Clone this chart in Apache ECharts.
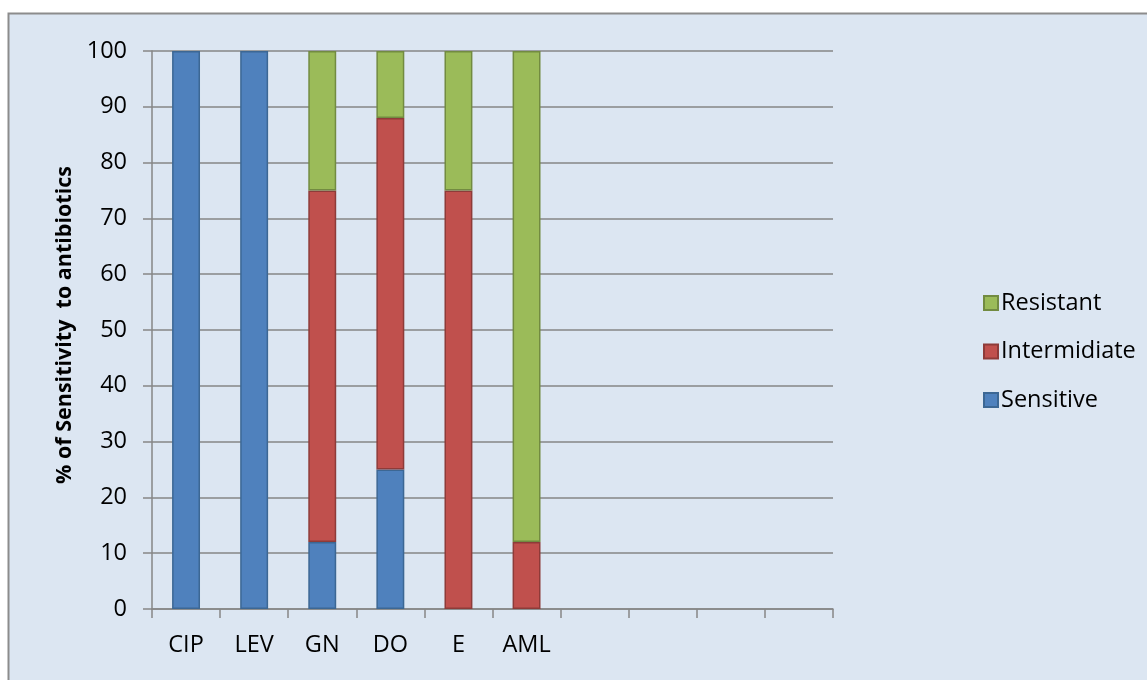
<!DOCTYPE html>
<html>
<head>
<meta charset="utf-8">
<script src="https://cdn.jsdelivr.net/npm/echarts@6/dist/echarts.min.js"></script>
<style>
html,body{margin:0;padding:0;background:#ffffff;}
#chart{width:1147px;height:680px;}
</style>
</head>
<body>
<div id="chart"></div>
<script>
var categories = ['CIP', 'LEV', 'GN', 'DO', 'E', 'AML', '', '', '', ''];
var sensitive = [100, 100, 12, 25, null, null, null, null, null, null];
var intermediate = [null, null, 63, 63, 75, 12, null, null, null, null];
var resistant = [null, null, 25, 12, 25, 88, null, null, null, null];
var yTicks = [0, 10, 20, 30, 40, 50, 60, 70, 80, 90, 100];

var FONT = 'Open Sans';
var AX = '#868686';
var chart = echarts.init(document.getElementById('chart'));

function bar(name, data, color, border) {
  return {
    name: name, type: 'bar', stack: 'total', data: data,
    barWidth: '41%',
    itemStyle: { color: color, borderColor: border, borderWidth: 1.5 },
    emphasis: { disabled: true }
  };
}

chart.setOption({
  backgroundColor: '#ffffff',
  animation: false,
  textStyle: { fontFamily: FONT },
  graphic: [{
    type: 'rect', z: -10, silent: true,
    shape: { x: 8.5, y: 13.5, width: 1200, height: 720 },
    style: { fill: '#DCE6F2', stroke: '#8C8C8C', lineWidth: 2 }
  }],
  grid: { left: 152, right: 314, top: 51, bottom: 71, containLabel: false },
  legend: {
    orient: 'vertical', left: 978, top: 286,
    data: ['Resistant', 'Intermidiate', 'Sensitive'],
    icon: 'rect', itemWidth: 14, itemHeight: 14, itemGap: 24.5,
    textStyle: { fontFamily: FONT, fontSize: 23.5, color: '#000', padding: [0, 0, 0, -2] }
  },
  xAxis: {
    type: 'category', data: categories,
    axisLine: { lineStyle: { color: AX, width: 1.5 } },
    axisTick: { show: true, length: 9, lineStyle: { color: AX, width: 1.5 } },
    axisLabel: { fontFamily: FONT, fontSize: 23.5, color: '#000', margin: 24 },
    splitLine: { show: false }
  },
  yAxis: {
    type: 'value', min: 0, max: 100, interval: 10,
    name: '% of Sensitivity  to antibiotics',
    nameLocation: 'middle', nameGap: 75,
    nameTextStyle: { fontFamily: FONT, fontSize: 21.5, fontWeight: 'bold', color: '#000', padding: [0, 0, 0, 10] },
    axisLine: { show: true, lineStyle: { color: AX, width: 1.5 } },
    axisTick: { show: true, length: 9, lineStyle: { color: AX, width: 1.5 } },
    axisLabel: { fontFamily: FONT, fontSize: 23.5, color: '#000', margin: 25,
      formatter: function (v) { return yTicks.indexOf(v) >= 0 ? String(v) : ''; } },
    splitLine: { show: true, lineStyle: { color: AX, width: 1.5 } }
  },
  series: [
    bar('Sensitive', sensitive, '#4F81BD', '#3C6794'),
    bar('Intermidiate', intermediate, '#C0504D', '#8E3B39'),
    bar('Resistant', resistant, '#9BBB59', '#728B41')
  ]
});
</script>
</body>
</html>
